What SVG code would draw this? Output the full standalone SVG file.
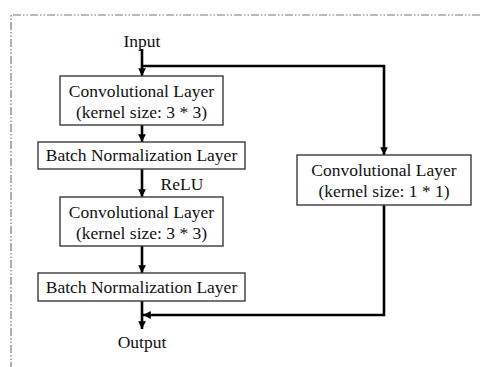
<svg xmlns="http://www.w3.org/2000/svg" width="480" height="367" viewBox="0 0 480 367">
<style>
.box{fill:#fff;stroke:#3a3a3a;stroke-width:1.4}
.t{font-family:"Liberation Serif","Times New Roman",serif;font-size:17.5px;fill:#111;text-anchor:middle}
.c{fill:none;stroke:#000;stroke-width:2.6}
.frame{fill:none;stroke:#777;stroke-width:1.2;stroke-dasharray:8 2 1.5 2 1.5 2}
</style>
<defs>
<marker id="ah" viewBox="0 0 10 10" refX="10" refY="5" markerWidth="3" markerHeight="3" orient="auto" markerUnits="strokeWidth">
<path d="M0,0 L10,5 L0,10 z" fill="#000"/>
</marker>
</defs>
<rect width="480" height="367" fill="#fff"/>
<path class="frame" d="M11,370 L11,15 L485,15"/>
<g id="connectors">
<path class="c" d="M142,49 L142,76" marker-end="url(#ah)"/>
<path class="c" d="M142,66 L384,66 L384,155" marker-end="url(#ah)"/>
<path class="c" d="M142,125 L142,142" marker-end="url(#ah)"/>
<path class="c" d="M142,169 L142,197" marker-end="url(#ah)"/>
<path class="c" d="M142,246 L142,273" marker-end="url(#ah)"/>
<path class="c" d="M142,301 L142,329" marker-end="url(#ah)"/>
<path class="c" d="M384,205 L384,315 L143,315" marker-end="url(#ah)"/>
</g>
<g id="input"><text class="t" x="142" y="47">Input</text></g>
<g id="conv1">
<rect class="box" x="60" y="76" width="163" height="49"/>
<text class="t" x="141.5" y="97">Convolutional Layer</text>
<text class="t" x="141.5" y="118">(kernel size: 3 * 3)</text>
</g>
<g id="bn1">
<rect class="box" x="38" y="142" width="207" height="27"/>
<text class="t" x="141.5" y="161">Batch Normalization Layer</text>
</g>
<g id="relu"><text class="t" x="182" y="190">ReLU</text></g>
<g id="conv2">
<rect class="box" x="60" y="197" width="163" height="49"/>
<text class="t" x="141.5" y="218">Convolutional Layer</text>
<text class="t" x="141.5" y="239">(kernel size: 3 * 3)</text>
</g>
<g id="bn2">
<rect class="box" x="38" y="273" width="207" height="28"/>
<text class="t" x="141.5" y="293">Batch Normalization Layer</text>
</g>
<g id="conv1x1">
<rect class="box" x="297" y="155" width="174" height="50"/>
<text class="t" x="384" y="176">Convolutional Layer</text>
<text class="t" x="384" y="197">(kernel size: 1 * 1)</text>
</g>
<g id="output"><text class="t" x="142" y="348">Output</text></g>
</svg>
